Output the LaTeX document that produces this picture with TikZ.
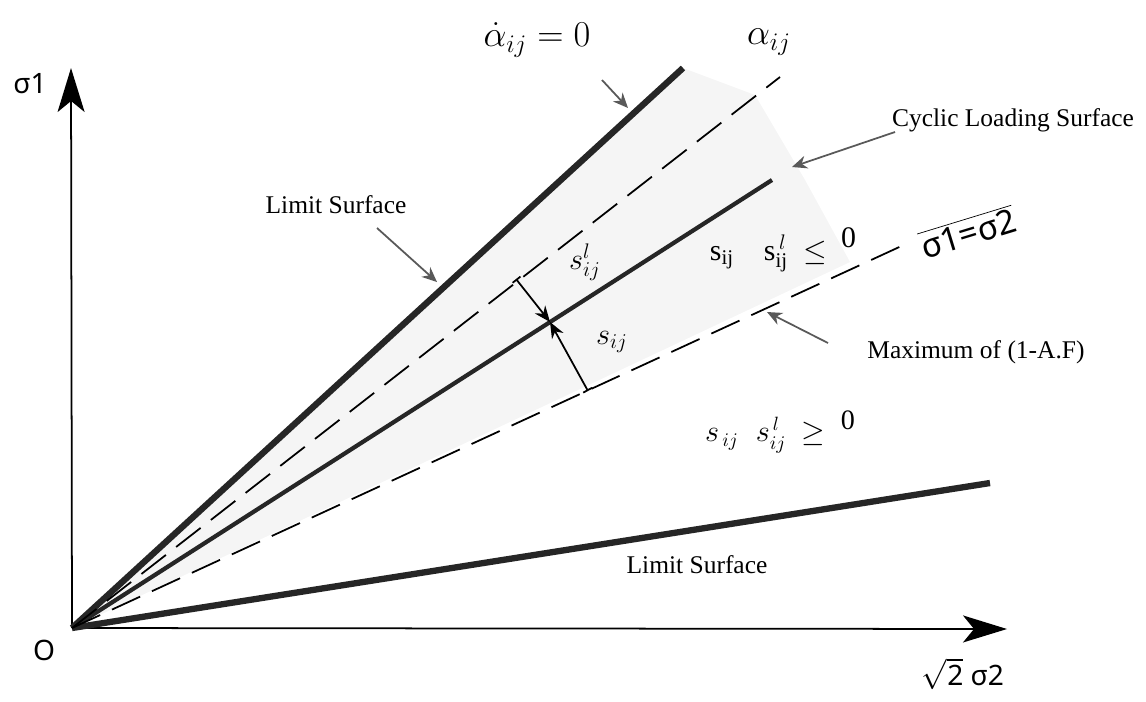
\documentclass[tikz,border=0pt]{standalone}
\usepackage{fontspec}
\setmainfont{Liberation Serif}
\newfontfamily\axisfont{Noto Sans}
\usetikzlibrary{arrows.meta}

\begin{document}
\begin{tikzpicture}[x=0.02cm,y=-0.02cm,
  every node/.style={font=\fontsize{14.5}{17}\selectfont},
  axis/.style={line width=1pt,-{Stealth[length=8.8mm,width=5.4mm,inset=2.2mm]}},
  limit/.style={line width=3.6pt,black!85},
  cyclic/.style={line width=2.4pt,black!85},
  dashline/.style={line width=1pt,dash pattern=on 0.62cm off 0.26cm},
  note/.style={line width=1pt,black!65,-{Stealth[length=3mm,width=2.6mm]}},
  dim/.style={line width=1pt,{Bar[width=2mm]}-{Stealth[length=3.2mm,width=2.6mm]}},
  mathbig/.style={font=\fontsize{20}{24}\selectfont},
  mathmid/.style={font=\fontsize{17}{20}\selectfont},
  axlab/.style={font=\axisfont\fontsize{16}{19}\selectfont}]
  \useasboundingbox (0,0) rectangle (1146,701);
  % end points of the lines through the origin
  \coordinate (O) at (72,628);
  \coordinate (limA) at (683,68);
  \coordinate (alpha) at (780,77);
  \coordinate (cyc) at (772,180);
  \coordinate (equal) at (908,243);
  \coordinate (limB) at (990,483);
  % shaded band
  \fill[black!4] (O) -- (limA) -- (755,95) -- (805,180) -- (850,262) -- cycle;
  % axes
  \coordinate (ytop) at (71,68);
  \coordinate (xend) at (1007,629);
  \draw[axis] (O) -- (ytop);
  \draw[axis] (O) -- (xend);
  % surfaces
  \draw[limit] (O) -- (limA);
  \draw[limit] (O) -- (limB);
  \draw[cyclic] (O) -- (cyc);
  \draw[dashline] (O) -- (alpha);
  \draw[dashline] (O) -- (equal);
  % dimension arrows at P
  \coordinate (P) at (550,322);
  \coordinate (Pup) at (516,279);
  \coordinate (Plow) at (588,391);
  \draw[dim] (Pup) -- (P);
  \draw[dim] (Plow) -- (P);
  % labels
  \node[mathbig] (adot) at (537,40) {$\dot{\alpha}_{ij}=0$};
  \node[mathbig] (alab) at (769,42) {$\alpha_{ij}$};
  \node (cls) at (1013,120) {Cyclic Loading Surface};
  \node (lim1) at (336,205) {Limit Surface};
  \node (lim2) at (697,565) {Limit Surface};
  \node (maxaf) at (976,352) {Maximum of (1-A.F)};
  \node[mathmid] (sl) at (585,262) {$s^{l}_{ij}$};
  \node[mathmid] (s) at (612,342) {$s_{ij}$};
  \node[font=\fontsize{17}{20}\selectfont] (neg) at (783,250) {$\mathrm{s}_{\mathrm{ij}}\quad\mathrm{s}^{\,l}_{\mathrm{ij}}\ \le\,\raisebox{0.9ex}{0}$};
  \node[font=\fontsize{16}{19}\selectfont] (pos) at (780,432) {$s_{\,ij}\;\; s^{\,l}_{ij}\ \ge\ \raisebox{0.9ex}{0}$};
  \node[font=\axisfont\fontsize{19}{22}\selectfont,rotate=17] (eqlab) at (968,232) {$\overline{\mbox{\axisfont σ1=σ2}}$};
  \node[axlab] (s1) at (30,84) {σ1};
  \node[axlab] (olab) at (44,650) {O};
  \node[axlab] (s2) at (963,674) {$\sqrt{\mbox{\axisfont 2}}$ σ2};
  % pointers
  \coordinate (adotT) at (602,80);
  \coordinate (adotH) at (628,108);
  \coordinate (clsT) at (895,132);
  \coordinate (clsH) at (792,167);
  \coordinate (lim1T) at (377,228);
  \coordinate (lim1H) at (437,282);
  \coordinate (maxT) at (828,343);
  \coordinate (maxH) at (767,312);
  \draw[note] (adotT) -- (adotH);
  \draw[note] (clsT) -- (clsH);
  \draw[note] (lim1T) -- (lim1H);
  \draw[note] (maxT) -- (maxH);
\end{tikzpicture}
\end{document}
